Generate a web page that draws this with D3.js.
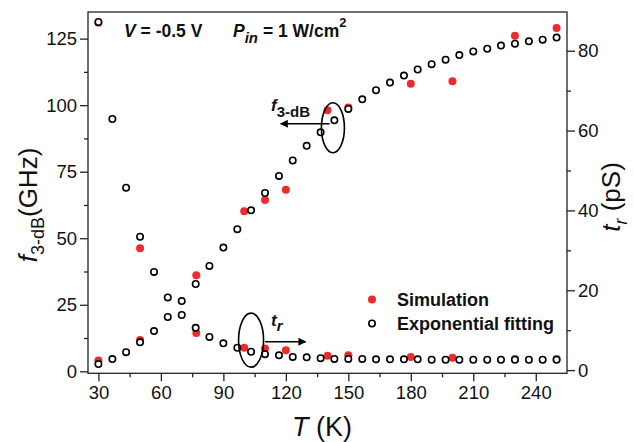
<!DOCTYPE html>
<html><head><meta charset="utf-8">
<script src="https://cdn.jsdelivr.net/npm/d3@7"></script>
<style>body{margin:0;background:#fff}text{font-family:"Liberation Sans",Arial,sans-serif;fill:#111}</style>
</head><body><svg id="c" width="634" height="442"></svg>
<script>
// Exponential fitting temperatures (K)
const fitT = [30, 36.7, 43.3, 50, 56.7, 63.3, 70, 76.7, 83.3, 90, 96.7, 103.3, 110, 116.7, 123.3, 130, 136.7, 143.3, 150, 156.7, 163.3, 170, 176.7, 183.3, 190, 196.7, 203.3, 210, 216.7, 223.3, 230, 236.7, 243.3, 250];
// f3-dB fitting (GHz)
const fitF = [2.7, 4.6, 7.2, 10.9, 15.1, 20.4, 26.4, 32.8, 39.6, 46.5, 53.4, 60.5, 67.0, 73.4, 79.2, 84.7, 89.8, 94.3, 98.6, 102.2, 105.6, 108.5, 111.1, 113.4, 115.4, 117.1, 118.8, 120.2, 121.2, 122.4, 123.1, 124.0, 124.6, 125.4];
// tr fitting (pS)
const fitTr = [87.2, 62.9, 45.7, 33.4, 24.6, 18.2, 13.8, 10.6, 8.3, 6.7, 5.6, 4.6, 4.0, 3.7, 3.3, 3.2, 3.0, 2.8, 2.8, 2.8, 2.7, 2.7, 2.7, 2.7, 2.6, 2.6, 2.6, 2.6, 2.6, 2.6, 2.6, 2.6, 2.6, 2.6];
// Simulation
const simT = [30, 50, 77, 100, 110, 120, 140, 150, 180, 200, 230, 250];
const simF = [4.1, 11.8, 36.1, 60.1, 64.4, 68.2, 98.1, 99.1, 108.0, 109.0, 126.1, 129.0];
const simTr = [87.0, 30.5, 9.3, 5.6, 5.4, 5.0, 3.6, 3.7, 3.3, 3.1, 2.8, 2.8];
// ticks
const xTicks = [30, 60, 90, 120, 150, 180, 210, 240];
const xMinor = [45, 75, 105, 135, 165, 195, 225];
const yLTicks = [0, 25, 50, 75, 100, 125];
const yLMinor = [12.5, 37.5, 62.5, 87.5, 112.5];
const yRTicks = [0, 20, 40, 60, 80];
const yRMinor = [10, 30, 50, 70];

const L = 88, R = 567, T = 12, B = 373.3;
const svg = d3.select("#c");
const x = d3.scaleLinear().domain([25, 255]).range([L, R]);
const yL = d3.scaleLinear().domain([-0.75, 135]).range([B, T]);
const yR = d3.scaleLinear().domain([-0.8, 89.7]).range([B, T]);
const axisCol = "#222";

function styleAxis(g) {
  g.select(".domain").remove();
  g.selectAll("line").attr("stroke", axisCol).attr("stroke-width", 1.3);
  g.selectAll("text").attr("font-size", 18.5).attr("fill", "#1a1a1a").attr("font-family", '"Liberation Sans",Arial,sans-serif');
}
svg.append("g").attr("transform", `translate(0,${B})`).call(d3.axisBottom(x).tickValues(xTicks).tickSize(8).tickPadding(5)).call(styleAxis);
svg.append("g").attr("transform", `translate(0,${B})`).call(d3.axisBottom(x).tickValues(xMinor).tickSize(4).tickFormat("")).call(styleAxis);
svg.append("g").attr("transform", `translate(${L},0)`).call(d3.axisLeft(yL).tickValues(yLTicks).tickSize(8).tickPadding(3)).call(styleAxis);
svg.append("g").attr("transform", `translate(${L},0)`).call(d3.axisLeft(yL).tickValues(yLMinor).tickSize(4).tickFormat("")).call(styleAxis);
svg.append("g").attr("transform", `translate(${R},0)`).call(d3.axisRight(yR).tickValues(yRTicks).tickSize(8).tickPadding(3)).call(styleAxis);
svg.append("g").attr("transform", `translate(${R},0)`).call(d3.axisRight(yR).tickValues(yRMinor).tickSize(4).tickFormat("")).call(styleAxis);
svg.append("rect").attr("x", L).attr("y", T).attr("width", R - L).attr("height", B - T)
  .attr("fill", "none").attr("stroke", axisCol).attr("stroke-width", 1.3);

const red = "#ee2b2b";
const sim = simT.map((t, i) => ({t, f: simF[i], r: simTr[i]}));
const fit = fitT.map((t, i) => ({t, f: fitF[i], r: fitTr[i]}));
const gs = svg.append("g");
gs.selectAll(".sf").data(sim).join("circle").attr("cx", d => x(d.t)).attr("cy", d => yL(d.f)).attr("r", 4).attr("fill", red);
gs.selectAll(".sr").data(sim).join("circle").attr("cx", d => x(d.t)).attr("cy", d => yR(d.r)).attr("r", 4).attr("fill", red);
const gf = svg.append("g");
gf.selectAll(".ff").data(fit).join("circle").attr("cx", d => x(d.t)).attr("cy", d => yL(d.f)).attr("r", 3.2)
  .attr("fill", "#fff").attr("stroke", "#000").attr("stroke-width", 1.6);
gf.selectAll(".fr").data(fit).join("circle").attr("cx", d => x(d.t)).attr("cy", d => yR(d.r)).attr("r", 3.2)
  .attr("fill", "#fff").attr("stroke", "#000").attr("stroke-width", 1.6);

// annotations: ellipses and arrows
svg.append("defs").append("marker").attr("id", "ah").attr("viewBox", "0 0 10 10").attr("refX", 9).attr("refY", 5)
  .attr("markerWidth", 5).attr("markerHeight", 5).attr("orient", "auto-start-reverse")
  .append("path").attr("d", "M0,0L10,5L0,10Z").attr("fill", "#000");
svg.append("ellipse").attr("cx", x(142.6)).attr("cy", yL(91.5)).attr("rx", 11.5).attr("ry", 25)
  .attr("fill", "none").attr("stroke", "#000").attr("stroke-width", 1.6);
svg.append("line").attr("x1", x(141)).attr("x2", x(117.5)).attr("y1", yL(93)).attr("y2", yL(93))
  .attr("stroke", "#000").attr("stroke-width", 1.6).attr("marker-end", "url(#ah)");
svg.append("ellipse").attr("cx", x(103.3)).attr("cy", yR(7.5)).attr("rx", 12.5).attr("ry", 27)
  .attr("fill", "none").attr("stroke", "#000").attr("stroke-width", 1.6);
svg.append("line").attr("x1", x(110)).attr("x2", x(129.5)).attr("y1", yR(7.1)).attr("y2", yR(7.1))
  .attr("stroke", "#000").attr("stroke-width", 1.6).attr("marker-end", "url(#ah)");

const fl = svg.append("text").attr("x", 271).attr("y", 111).attr("font-weight", "bold").attr("font-size", 17);
fl.append("tspan").attr("font-style", "italic").text("f");
fl.append("tspan").attr("dy", 6).attr("font-size", 15).text("3-dB");
const tl = svg.append("text").attr("x", 271).attr("y", 326).attr("font-weight", "bold").attr("font-size", 17);
tl.append("tspan").attr("font-style", "italic").text("t");
tl.append("tspan").attr("font-style", "italic").attr("dy", 5).attr("font-size", 15).text("r");

// top condition labels
const v = svg.append("text").attr("x", 124).attr("y", 37).attr("font-weight", "bold").attr("font-size", 17.5);
v.append("tspan").attr("font-style", "italic").text("V");
v.append("tspan").text(" = -0.5 V");
const p = svg.append("text").attr("x", 233).attr("y", 37).attr("font-weight", "bold").attr("font-size", 17.5);
p.append("tspan").attr("font-style", "italic").text("P");
p.append("tspan").attr("font-style", "italic").attr("dy", 6).attr("font-size", 15).text("in");
p.append("tspan").attr("dy", -6).text(" = 1 W/cm");
p.append("tspan").attr("dy", -10).attr("font-size", 13).text("2");

// legend
svg.append("circle").attr("cx", 372).attr("cy", 299.5).attr("r", 4).attr("fill", red);
svg.append("circle").attr("cx", 372).attr("cy", 323.5).attr("r", 3.2).attr("fill", "#fff").attr("stroke", "#000").attr("stroke-width", 1.6);
svg.append("text").attr("x", 397).attr("y", 305.5).attr("font-weight", "bold").attr("font-size", 18).text("Simulation");
svg.append("text").attr("x", 397).attr("y", 329.5).attr("font-weight", "bold").attr("font-size", 18).text("Exponential fitting");

// axis titles
const xt = svg.append("text").attr("x", 322).attr("y", 436).attr("text-anchor", "middle").attr("font-size", 27);
xt.append("tspan").attr("font-style", "italic").text("T");
xt.append("tspan").text(" (K)");
const lt = svg.append("text").attr("transform", "translate(37,205) rotate(-90)").attr("text-anchor", "middle").attr("font-size", 26);
lt.append("tspan").attr("font-style", "italic").text("f");
lt.append("tspan").attr("dy", 7).attr("font-size", 18).text("3-dB");
lt.append("tspan").attr("dy", -7).text("(GHz)");
const rt = svg.append("text").attr("transform", "translate(620,197) rotate(-90)").attr("text-anchor", "middle").attr("font-size", 26);
rt.append("tspan").attr("font-style", "italic").text("t");
rt.append("tspan").attr("font-style", "italic").attr("dy", 7).attr("font-size", 18).text("r");
rt.append("tspan").attr("dy", -7).text(" (pS)");
</script></body></html>
